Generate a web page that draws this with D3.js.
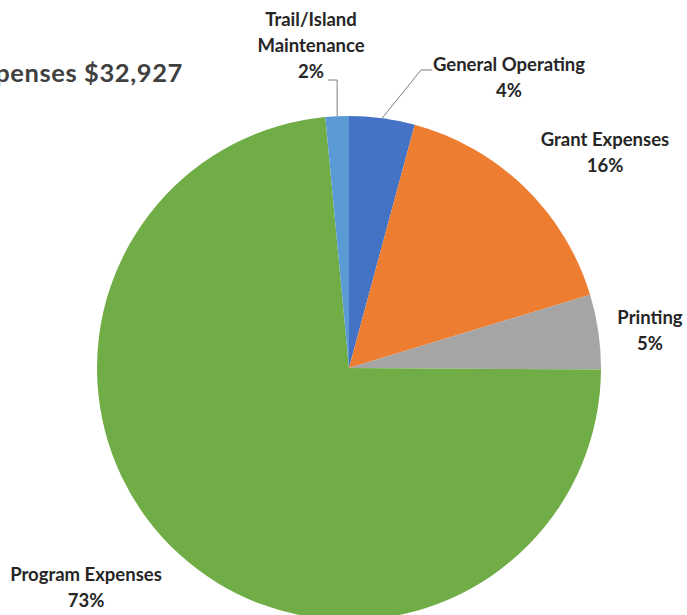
<!DOCTYPE html>
<html><head><meta charset="utf-8">
<script src="https://cdn.jsdelivr.net/npm/d3@7"></script>
<style>
html,body{margin:0;padding:0;background:#fff;overflow:hidden}
svg{display:block}
text{font-family:Lato,"Open Sans",sans-serif;font-weight:bold;fill:#262626}
</style></head>
<body>
<script>
const categories = ["General Operating","Grant Expenses","Printing","Program Expenses","Trail/Island Maintenance"];
const values = [4.2, 16.1, 4.8, 73.4, 1.5];
const percentLabels = ["4%","16%","5%","73%","2%"];
const colors = ["#4472C4","#ED7D31","#A5A5A5","#70AD47","#5B9BD5"];
const titleText = "Total Expenses $32,927";

const W = 687, H = 615;
const cx = 349, cy = 368, R = 252;
const svg = d3.select("body").append("svg").attr("width", W).attr("height", H);

svg.append("text").attr("x", 183).attr("y", 82).attr("text-anchor","end")
  .style("font-size","25.5px").style("letter-spacing","0.6px").style("fill","#404040").text(titleText);

const pie = d3.pie().sort(null).value(d => d)(values);
const arc = d3.arc().innerRadius(0).outerRadius(R);
const g = svg.append("g").attr("transform", `translate(${cx},${cy})`);
g.selectAll("path").data(pie).join("path").attr("d", arc).attr("fill", (d,i) => colors[i]);

// label layout: lines per category, centre x, first baseline y
const labelLines = [["General Operating"],["Grant Expenses"],["Printing"],["Program Expenses"],["Trail/Island","Maintenance"]];
const labelPos = [[509,71],[605,146],[650,324],[86,581],[311,26]];
const fs = 18.5, step = 26;
labelLines.forEach((lines, i) => {
  const [x, y0] = labelPos[i];
  const t = svg.append("text").attr("text-anchor","middle").style("font-size", fs+"px");
  lines.concat([percentLabels[i]]).forEach((ln, j) => {
    t.append("tspan").attr("x", x).attr("y", y0 + j*step).text(ln);
  });
});

// leader lines
function edgePoint(d){
  const a = (d.startAngle + d.endAngle)/2;
  return [cx + R*Math.sin(a), cy - R*Math.cos(a)];
}
const trail = edgePoint(pie[4]);
svg.append("path").attr("fill","none").attr("stroke","#7f7f7f").attr("stroke-width",1)
  .attr("d", d3.line()([[328,80],[trail[0],80],trail]));
const gen = edgePoint(pie[0]);
svg.append("path").attr("fill","none").attr("stroke","#7f7f7f").attr("stroke-width",1)
  .attr("d", d3.line()([[432,70],[421,70],gen]));
</script>
</body></html>
